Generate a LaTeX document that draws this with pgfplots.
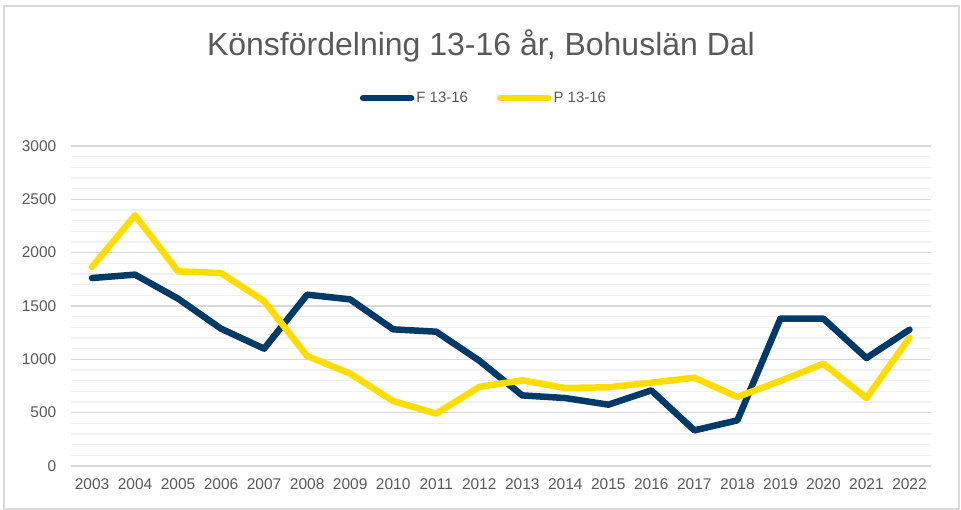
\documentclass[border=0pt]{standalone}
\usepackage{pgfplots}
\pgfplotsset{compat=1.18}
\usepackage{fontspec}
\setmainfont{Liberation Sans}
\definecolor{navy}{HTML}{003A68}
\definecolor{gul}{HTML}{FFDD00}
\definecolor{txt}{HTML}{595959}
\definecolor{gmaj}{HTML}{D9D9D9}
\definecolor{gmin}{HTML}{F0F0F0}
\begin{document}
\begin{tikzpicture}[x=1pt,y=1pt]
\path[use as bounding box] (0,0) rectangle (961,510);
\draw[gmaj, line width=1.5pt] (4,1) rectangle (959,504);
\node[text=txt, font=\fontsize{32}{38}\selectfont] at (481,464) {Könsfördelning 13-16 år, Bohuslän Dal};
\begin{axis}[
  at={(70.5pt,44pt)}, anchor=south west,
  width=860.5pt, height=320pt, scale only axis,
  xmin=-0.5, xmax=19.5, ymin=0, ymax=3000,
  xtick={0,...,19},
  xticklabels={2003,2004,2005,2006,2007,2008,2009,2010,2011,2012,2013,2014,2015,2016,2017,2018,2019,2020,2021,2022},
  ytick={0,500,...,3000},
  minor y tick num=4,
  ymajorgrids, yminorgrids,
  major grid style={color=gmaj, line width=1.3pt},
  minor grid style={color=gmin, line width=1.3pt},
  axis line style={draw=none},
  major tick style={draw=none}, minor tick style={draw=none},
  tick label style={font=\fontsize{15.5}{18}\selectfont, text=txt},
  /pgf/number format/assume math mode=true,
  /pgf/number format/1000 sep={},
  yticklabel style={inner sep=0pt, xshift=-14pt},
  xticklabel style={inner sep=0pt, yshift=-12pt},
  legend columns=2,
  legend style={draw=none, fill=none, at={(0.4805,1.15)}, anchor=center,
    font=\fontsize{15}{18}\selectfont, text=txt,
    /tikz/every even column/.append style={column sep=27pt}},
  legend image code/.code={\draw[#1, line cap=round] (0pt,0pt) -- (48pt,0pt);},
]
\addplot[navy, line width=6.5pt, line join=round, line cap=round] coordinates {
(0,1762)(1,1794)(2,1569)(3,1287)(4,1100)(5,1606)(6,1562)(7,1281)(8,1259)(9,988)
(10,662)(11,637)(12,575)(13,709)(14,334)(15,428)(16,1381)(17,1381)(18,1012)(19,1278)};
\addlegendentry{F 13-16}
\addplot[gul, line width=6.5pt, line join=round, line cap=round] coordinates {
(0,1866)(1,2350)(2,1825)(3,1809)(4,1547)(5,1031)(6,866)(7,609)(8,491)(9,741)
(10,803)(11,731)(12,738)(13,781)(14,828)(15,647)(16,797)(17,959)(18,637)(19,1203)};
\addlegendentry{P 13-16}
\end{axis}
\end{tikzpicture}
\end{document}
